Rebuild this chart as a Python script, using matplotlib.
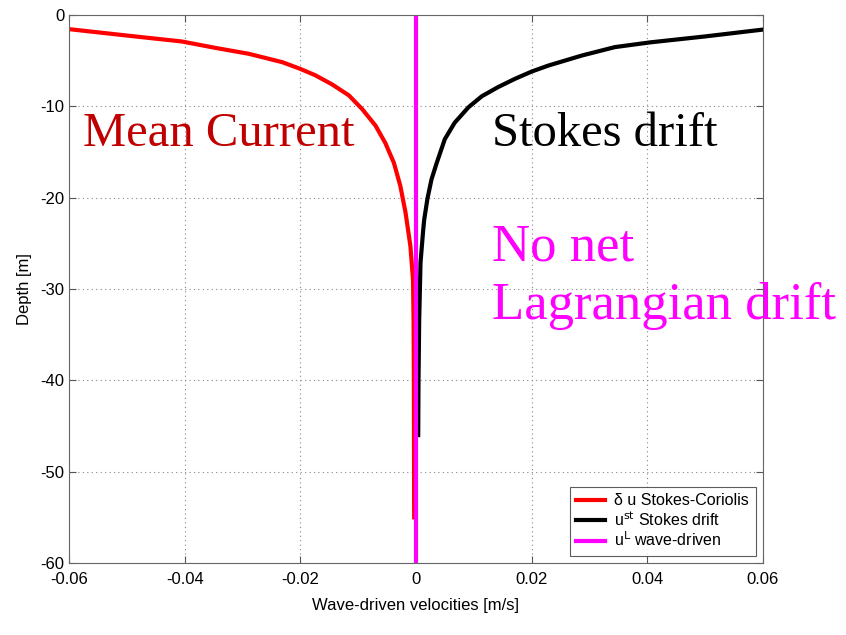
import matplotlib.pyplot as plt

# values
depth_st = [-1.6, -2.35, -3.0, -3.52, -4.44, -5.54, -6.2, -7.0, -7.9, -8.9, -10.1, -11.8, -13.6,
            -16.2, -18.0, -20.1, -22.4, -23.5, -27.1, -33.4, -40.0, -46.0]
u_st = [0.060, 0.050, 0.0405, 0.0344, 0.0287, 0.0229, 0.0200, 0.0171, 0.0142, 0.0114, 0.0091, 0.0067, 0.0050,
        0.0036, 0.0027, 0.0020, 0.00144, 0.00127, 0.0008, 0.00057, 0.00045, 0.0004]

depth_sc = [-1.55, -2.25, -2.9, -3.6, -4.25, -5.17, -5.9, -6.6, -7.6, -8.8, -10.3, -12.1, -14.0,
            -16.2, -18.7, -21.6, -25.3, -29.0, -33.4, -40.0, -55.0]
u_sc = [-0.0600, -0.050, -0.0405, -0.0347, -0.0289, -0.0231, -0.0200, -0.0174, -0.0145, -0.0116, -0.0093, -0.0070, -0.0053,
        -0.0038, -0.0027, -0.0018, -0.00095, -0.0005, -0.0004, -0.00035, -0.0003]

depth_L = [0, -60]
u_L = [0, 0]

xticks = [-0.06, -0.04, -0.02, 0, 0.02, 0.04, 0.06]
xticklabels = ['-0.06', '-0.04', '-0.02', '0', '0.02', '0.04', '0.06']
yticks = [-60, -50, -40, -30, -20, -10, 0]
yticklabels = ['-60', '-50', '-40', '-30', '-20', '-10', '0']

plt.rcParams['font.family'] = ['Liberation Sans', 'DejaVu Sans']
plt.rcParams['axes.unicode_minus'] = False

fig = plt.figure(figsize=(8.46, 6.35), dpi=100)
ax = fig.add_axes([0.0816, 0.1134, 0.820, 0.863])

ax.plot(u_sc, depth_sc, color='#ff0000', lw=3, label='δ u Stokes-Coriolis')
ax.plot(u_st, depth_st, color='black', lw=3, label=r'u$^{\rm st}$ Stokes drift')
ax.plot(u_L, depth_L, color='#ff00ff', lw=3, label=r'u$^{\rm L}$ wave-driven')

ax.set_xlim(-0.06, 0.06)
ax.set_ylim(-60, 0)
ax.set_xticks(xticks)
ax.set_xticklabels(xticklabels)
ax.set_yticks(yticks)
ax.set_yticklabels(yticklabels)
ax.tick_params(direction='in', top=True, right=True, labelsize=12, length=5, color='#555555')
ax.tick_params(axis='x', pad=6.5)
for s in ax.spines.values():
    s.set_color('#666666')
ax.grid(True, linestyle=(0, (1, 3)), color='#888888', linewidth=0.8)
ax.set_axisbelow(True)

ax.set_xlabel('Wave-driven velocities [m/s]', fontsize=12, labelpad=8)
ax.set_ylabel('Depth [m]', fontsize=12, labelpad=5.5)

serif = ['Liberation Serif', 'DejaVu Serif']
ax.text(-0.0575, -14.3, 'Mean Current', color='#c00000', fontsize=35, family=serif,
        va='baseline', ha='left', clip_on=False)
ax.text(0.0132, -14.3, 'Stokes drift', color='black', fontsize=35, family=serif,
        va='baseline', ha='left', clip_on=False)
ax.text(0.0132, -26.9, 'No net', color='#ff00ff', fontsize=38, family=serif,
        va='baseline', ha='left', clip_on=False)
ax.text(0.0132, -33.3, 'Lagrangian drift', color='#ff00ff', fontsize=38, family=serif,
        va='baseline', ha='left', clip_on=False)

leg = ax.legend(loc='lower right', fontsize=11.5, frameon=True, fancybox=False,
                edgecolor='#333333', handlelength=1.8, borderaxespad=0.45,
                labelspacing=0.12, handletextpad=0.6, borderpad=0.4)
leg.get_frame().set_linewidth(0.8)

fig.savefig('out.png', dpi=100)
